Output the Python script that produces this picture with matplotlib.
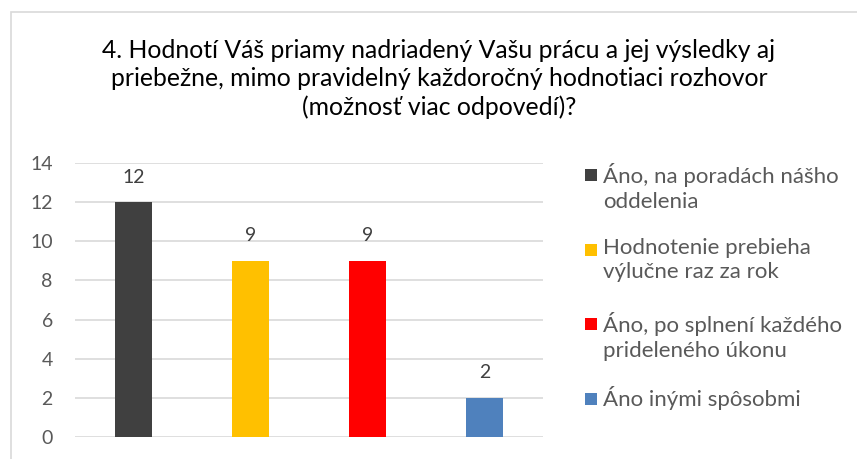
import matplotlib.pyplot as plt
from matplotlib.patches import Rectangle

title = ("4. Hodnotí Váš priamy nadriadený Vašu prácu a jej výsledky aj\n"
         "priebežne, mimo pravidelný každoročný hodnotiaci rozhovor\n"
         "(možnosť viac odpovedí)?")
labels = ["Áno, na poradách nášho\noddelenia",
          "Hodnotenie prebieha\nvýlučne raz za rok",
          "Áno, po splnení každého\nprideleného úkonu",
          "Áno inými spôsobmi"]
values = [12, 9, 9, 2]
colors = ["#404040", "#ffc000", "#ff0000", "#4f81bd"]

plt.rcParams["font.family"] = ["Lato", "DejaVu Sans"]

fig = plt.figure(figsize=(8.57, 4.59), dpi=100)
W, H = 857, 459

# ramček grafu
fig.patches.append(Rectangle((11 / W, -0.1), 1.2, 1 - 12 / H + 0.1,
                             transform=fig.transFigure, fill=False,
                             edgecolor="#d9d9d9", linewidth=1.2))

ax = fig.add_axes([75 / W, 22 / H, 468 / W, 274 / H])
x = range(len(values))
bars = ax.bar(x, values, width=0.32, color=colors, zorder=3)
for xi, v in zip(x, values):
    ax.text(xi, v + 1.28, str(v), ha="center", va="center",
            fontsize=14, color="#404040")

ax.set_xlim(-0.5, 3.5)
ax.set_ylim(0, 14)
ax.set_yticks(range(0, 15, 2))
ax.set_xticks([])
ax.grid(axis="y", color="#d9d9d9", linewidth=1.2, zorder=0)
for s in ax.spines.values():
    s.set_visible(False)
ax.tick_params(axis="y", length=0, labelsize=14, labelcolor="#595959", pad=16)

fig.text(439 / W, 1 - 79 / H, title, ha="center", va="center",
         fontsize=17.8, color="#000000", linespacing=1.25)

# legenda ako v Exceli - štvorček zarovnaný s prvým riadkom
y0, pitch, sq = 175, 74.5, 12
for i, (lab, col) in enumerate(zip(labels, colors)):
    yc = y0 + i * pitch
    fig.patches.append(Rectangle((585 / W, 1 - (yc + sq / 2) / H), sq / W, sq / H,
                                 transform=fig.transFigure, facecolor=col,
                                 edgecolor="none"))
    fig.text(603 / W, 1 - (yc - 12) / H, lab, ha="left", va="top",
             fontsize=16, color="#595959", linespacing=1.3)

fig.savefig("out.png", dpi=100)
